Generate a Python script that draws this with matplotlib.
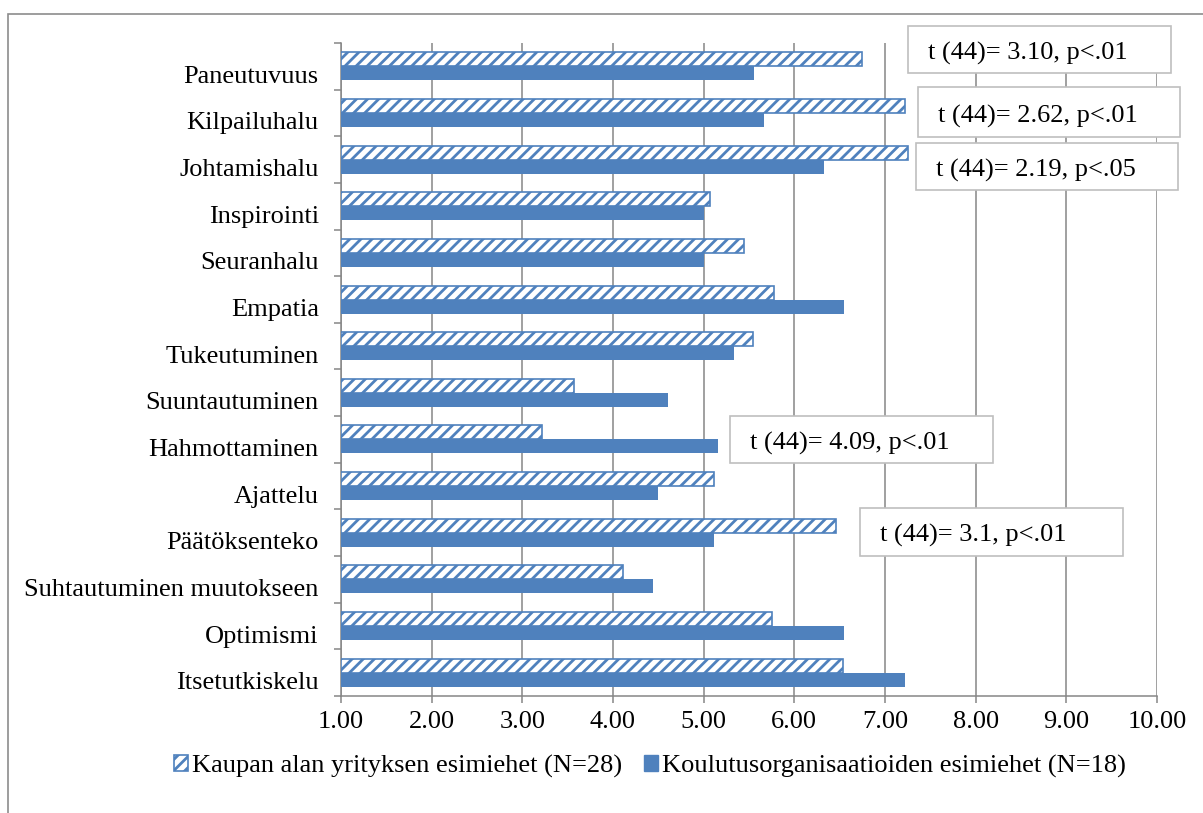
import matplotlib
matplotlib.use("Agg")
import matplotlib.pyplot as plt
from matplotlib.patches import Rectangle, Patch
import matplotlib.transforms as mtransforms
import numpy as np

plt.rcParams['font.family'] = ['Liberation Serif', 'DejaVu Serif']
plt.rcParams['hatch.linewidth'] = 2.0

categories = ["Paneutuvuus", "Kilpailuhalu", "Johtamishalu", "Inspirointi",
              "Seuranhalu", "Empatia", "Tukeutuminen", "Suuntautuminen",
              "Hahmottaminen", "Ajattelu", "Päätöksenteko",
              "Suhtautuminen muutokseen", "Optimismi", "Itsetutkiskelu"]
kaupan = [6.75, 7.22, 7.25, 5.07, 5.44, 5.78, 5.54, 3.57, 3.22, 5.11, 6.46, 4.11, 5.75, 6.54]
koulutus = [5.55, 5.66, 6.33, 5.00, 5.00, 6.55, 5.33, 4.61, 5.16, 4.50, 5.11, 4.44, 6.55, 7.22]
xticks = [1, 2, 3, 4, 5, 6, 7, 8, 9, 10]
label_kaupan = "Kaupan alan yrityksen esimiehet (N=28)"
label_koulutus = "Koulutusorganisaatioiden esimiehet (N=18)"

# t-test annotations: text, (x0, x1) in value units, (y0, y1) in category units
notes = [
    ("t (44)= 3.10, p<.01", (7.25, 10.15), (12.85, 13.86)),
    ("t (44)= 2.62, p<.01", (7.36, 10.25), (11.48, 12.55)),
    ("t (44)= 2.19, p<.05", (7.34, 10.23), (10.34, 11.36)),
    ("t (44)= 4.09, p<.01", (5.29, 8.19), (4.49, 5.50)),
    ("t (44)= 3.1, p<.01", (6.72, 9.63), (2.51, 3.53)),
]

blue = "#4F81BD"
grid_gray = "#868686"
fs = 19

fig = plt.figure(figsize=(12.03, 8.13), dpi=100)
ax = fig.add_axes([341/1203, 1 - 696/813, (1157 - 341)/1203, (696 - 43)/813])

n = len(categories)
ypos = np.arange(n)[::-1]
h = 0.3
k = np.array(kaupan)
s = np.array(koulutus)
ax.barh(ypos + h/2, k - 1, left=1, height=h, facecolor="white",
        edgecolor=blue, hatch="///", linewidth=1.2, zorder=3)
ax.barh(ypos - h/2, s - 1, left=1, height=h, color=blue,
        linewidth=0, zorder=3)

ax.set_xlim(1, 10)
ax.set_ylim(-0.5, n - 0.5)
ax.set_xticks(xticks)
ax.set_xticklabels([f"{v:.2f}" for v in xticks], fontsize=fs)
ax.set_yticks(ypos)
ax.set_yticklabels(categories, fontsize=fs)
ax.set_yticks(np.arange(n + 1) - 0.5, minor=True)

ax.tick_params(axis='y', which='major', length=0, pad=16)
ax.tick_params(axis='y', which='minor', length=5, width=1.1, color=grid_gray)
ax.tick_params(axis='x', which='major', length=5, width=1.1, color=grid_gray, pad=6)

# category labels sit slightly below the centre of each bar pair
shift = mtransforms.ScaledTranslation(0, -8/100, fig.dpi_scale_trans)
for lab in ax.get_yticklabels():
    lab.set_transform(lab.get_transform() + shift)

ax.grid(axis='x', color=grid_gray, linewidth=1.1, zorder=0)
ax.set_axisbelow(True)
for side in ("top", "right"):
    ax.spines[side].set_visible(False)
for side in ("left", "bottom"):
    ax.spines[side].set_color(grid_gray)
    ax.spines[side].set_linewidth(1.1)

for text, (x0, x1), (y0, y1) in notes:
    ax.add_patch(Rectangle((x0, y0), x1 - x0, y1 - y0, facecolor="white",
                           edgecolor="#BFBFBF", linewidth=1.2, zorder=5,
                           clip_on=False))
    ax.text(x0 + 0.22, (y0 + y1) / 2 - 0.08, text, fontsize=fs, ha="left",
            va="center", zorder=6, clip_on=False)

handles = [Patch(facecolor="white", edgecolor=blue, hatch="///", linewidth=1.2),
           Patch(facecolor=blue, edgecolor=blue)]
fig.legend(handles, [label_kaupan, label_koulutus], loc="center",
           bbox_to_anchor=(650/1203, 1 - 766/813), ncol=2, frameon=False,
           fontsize=fs, handlelength=0.55, handleheight=0.55,
           handletextpad=0.15, columnspacing=0.8)

# outer chart frame
fig.add_artist(Rectangle((8/1203, -0.2), 1.2, 1 - 14/813 + 0.2,
                         transform=fig.transFigure, facecolor="none",
                         edgecolor="#8C8C8C", linewidth=1.2, clip_on=False))

fig.savefig("out.png", dpi=100)
